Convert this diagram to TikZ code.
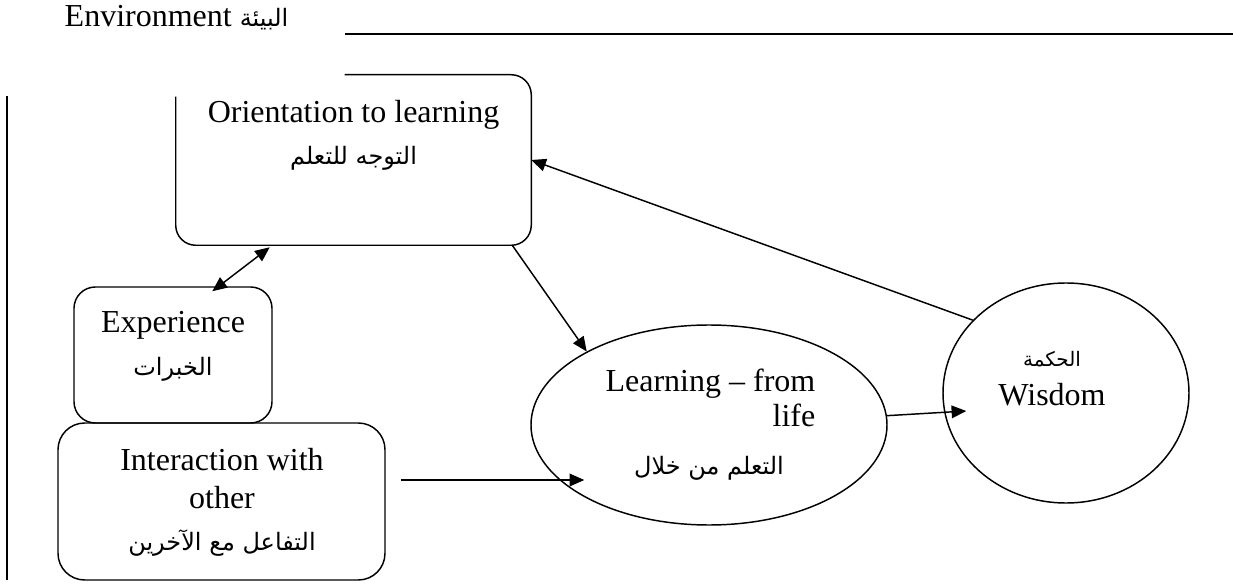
\documentclass[tikz,border=0pt]{standalone}
\usepackage{fontspec}
\setmainfont{Liberation Serif}
\newfontfamily\arabicfont[Script=Arabic]{DejaVu Sans}
\TeXXeTstate=1
\usetikzlibrary{shapes,arrows.meta,calc}
\newcommand{\artext}[1]{{\arabicfont\fontsize{18pt}{20pt}\selectfont\beginR #1\endR}}

\begin{document}
\begin{tikzpicture}[x=0.75pt,y=-0.75pt,font=\fontsize{24pt}{29pt}\selectfont]

\tikzstyle{box} = [draw, line width=1.1pt, rounded corners=16pt, inner sep=0]
\tikzstyle{oval} = [draw, ellipse, line width=1.1pt, inner sep=0]
\tikzstyle{link} = [line width=1.1pt, -{Triangle[length=11pt,width=9.5pt]}]
\tikzstyle{dlink} = [line width=1.1pt, {Triangle[length=11pt,width=9.5pt]}-{Triangle[length=11pt,width=9.5pt]}]

\useasboundingbox (0,0) rectangle (1233,588);

\node [anchor=base west] (env) at (60,27) {Environment \artext{البيئة}};
\draw [line width=1.1pt] (345,34) -- (1233,34);
\draw [line width=1.1pt] (7,96) -- (7,580);

% orientation box, top left corner left open
\node [inner sep=0, minimum width=266.25pt, minimum height=127.5pt] (orient) at (353.5,160) {};
\draw [line width=1.1pt, rounded corners=15pt] ($(orient.north west)+(0,22)$) -- (orient.south west)
  -- (orient.south east) -- (orient.north east) -- ($(orient.north west)+(169,0)$);
\node [anchor=base] (orientTxt) at (353.5,123) {\begin{tabular}[t]{c} Orientation to learning\\[2pt] \artext{التوجه للتعلم}\end{tabular}};

\node [box, minimum width=148.5pt, minimum height=102pt] (exp) at (173,355) {};
\node [anchor=base] (expTxt) at (173,333) {\begin{tabular}[t]{c} Experience\\[3pt] \artext{الخبرات}\end{tabular}};

\node [box, rounded corners=20pt, minimum width=245.25pt, minimum height=117.75pt] (inter) at (221.5,501.5) {};
\node [anchor=base] (interTxt) at (222,470) {\begin{tabular}[t]{c} Interaction with\\ other\\[2pt] \artext{التفاعل مع الآخرين}\end{tabular}};

\node [oval, minimum width=267pt, minimum height=150pt] (learn) at (709,425) {};
\node [anchor=base east] (learnTxt) at (820,392) {\begin{tabular}[t]{@{}r@{}} Learning – from\\[-3pt] life\end{tabular}};
\node (learnAr) at (709,468) {\artext{التعلم من خلال}};

\node [oval, minimum width=184.5pt, minimum height=165pt] (wis) at (1066,393) {};
\node (wisTxt) at (1052,378) {\begin{tabular}{c} {\arabicfont\fontsize{15pt}{18pt}\selectfont\beginR الحكمة\endR}\\ Wisdom\end{tabular}};

\coordinate (oriA) at ($(orient.south west)+(94,2)$);
\coordinate (expA) at ($(exp.north west)+(139,5)$);
\draw [dlink] (oriA) -- (expA);

\coordinate (oriB) at ($(orient.south east)+(-19,0)$);
\draw [link] (oriB) -- (learn.149);
\draw [link] (wis.142) -- (orient.east);

\coordinate (interA) at ($(inter.east)+(15,-21.5)$);
\coordinate (learnA) at ($(learn.west)+(54,55)$);
\draw [link] (interA) -- (learnA);

\coordinate (wisA) at ($(wis.west)+(24,18)$);
\draw [link] (learn.3) -- (wisA);

\end{tikzpicture}
\end{document}
